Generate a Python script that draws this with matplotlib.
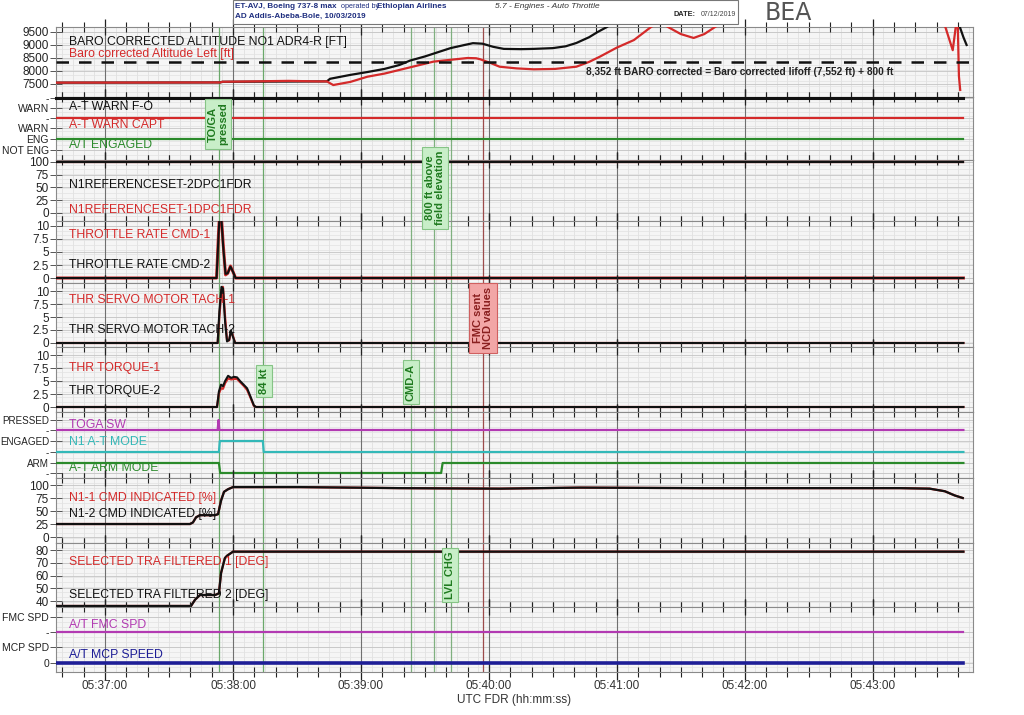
import numpy as np
import matplotlib
matplotlib.use('Agg')
import matplotlib.pyplot as plt
from matplotlib.ticker import MultipleLocator, FuncFormatter

plt.rcParams['font.family'] = ['Liberation Sans', 'DejaVu Sans']

# time axis: seconds after 05:37:00 UTC
T_START, T_END = -23, 407

# baro corrected altitude [ft]
t_alt_red = [-23, 54, 55, 86, 100, 104, 107, 115, 123, 131, 138, 146, 154, 162, 170, 174,
             176, 181, 185, 193, 201, 211, 221, 227, 232, 240, 248, 256, 260, 264, 270, 276,
             281, 286, 292, 390, 394, 397.5, 399, 399.8, 400.4, 401]
alt_red = [7552, 7560, 7585, 7620, 7600, 7600, 7460, 7580, 7780, 7900, 8040, 8200, 8360, 8430,
           8500, 8490, 8450, 8300, 8165, 8100, 8065, 8080, 8165, 8350, 8550, 8900, 9190, 9690,
           9900, 9690, 9420, 9270, 9420, 9690, 10000, 10000, 9700, 8800, 9750, 10000, 7800, 7270]
t_alt_blk = [-23, 54, 55, 104, 105.5, 115, 123, 131, 138, 143, 150, 156, 162, 168, 172.5, 177,
             182, 187, 195, 201, 210, 216, 221, 227, 231, 235.3, 240, 398, 400.8, 402.5, 404]
alt_blk = [7552, 7560, 7585, 7600, 7700, 7850, 7960, 8080, 8230, 8400, 8560, 8720, 8880, 8990,
           9070, 9050, 8930, 8850, 8840, 8850, 8880, 8950, 9077, 9300, 9500, 9690, 9950, 9950,
           9700, 9300, 9000]
alt_threshold = 8352

# discrete states (0/1) over the whole record
t_full = [-23, 402.5]
warn_fo = [0, 0]
warn_capt = [0, 0]
at_engaged = [1, 1]
fmc_spd = [0, 0]
mcp_spd = [0, 0]

t_toga = [-23, 52.8, 53.2, 53.6, 402.5]
toga_sw = [0, 0, 1, 0, 0]
t_n1_mode = [-23, 53.4, 53.8, 74.0, 74.4, 402.5]
n1_mode = [0, 0, 1, 1, 0, 0]
t_arm = [-23, 53.4, 54.0, 157.6, 158.3, 402.5]
arm_mode = [1, 1, 0, 0, 1, 1]

# N1 reference set
n1ref_1 = [100, 100]
n1ref_2 = [100, 100]

# throttle rate cmd
t_rate = [-23, 52.3, 53.2, 53.6, 54.6, 55.4, 56.5, 57.5, 58.8, 60.0, 61.2, 402.5]
rate_1 = [0, 0, 8.5, 11.5, 11.5, 6.5, 0.6, 0.9, 2.3, 1.2, 0, 0]
rate_2 = [0, 0, 8, 11.2, 11.2, 6, 0.8, 0.9, 2.2, 1.2, 0, 0]

# servo motor tach
t_servo = [-23, 52.8, 53.6, 54.6, 55.3, 56.3, 57.2, 58.2, 59.0, 59.8, 61.0, 402.5]
servo_1 = [0, 0, 5, 10.2, 10.8, 5, 0.5, 0.5, 2.1, 1.6, 0, 0]
servo_2 = [0, 0, 6, 10.8, 10.5, 4, 0.3, 0.6, 2.4, 1.4, 0, 0]

# thr torque
t_torque = [-23, 52.5, 53.4, 54.4, 55.3, 56.3, 57.7, 59.1, 60.5, 61.9, 63.3, 65.2, 66.6, 68.0,
            69.8, 70.8, 402.5]
torque_1 = [0, 0, 2.6, 3.6, 3.5, 4.6, 5.5, 5.3, 5.4, 5.4, 4.8, 4.0, 3.3, 2.0, 0.2, 0, 0]
torque_2 = [0, 0, 3.0, 4.3, 4.0, 5.0, 6.0, 5.6, 5.8, 5.7, 5.0, 4.2, 3.6, 2.2, 0.3, 0, 0]

# N1 cmd indicated [%]
t_n1 = [-23, 39.8, 41.2, 42.7, 44.5, 51.6, 53.0, 54.4, 55.8, 57.7, 60.0, 91.4, 138.3, 185.2,
        222.7, 278.9, 325.8, 372.7, 386.7, 393.8, 398.4, 402.2]
n1_1 = [25, 25, 28, 38, 42, 42, 44, 71, 87, 92, 96, 96, 94, 93, 95, 94, 94, 94, 93, 88, 80, 75]
n1_2 = [25, 25, 28, 38, 42, 42, 44, 70, 87, 92, 96, 96, 94, 93, 95, 94, 94, 94, 93, 88, 80, 75]

# selected TRA filtered [deg]
t_tra = [-23, 40.3, 42.2, 44.5, 51.6, 53.4, 54.4, 56.2, 57.2, 60.0, 402.5]
tra_1 = [36.1, 36.1, 41, 44.7, 44.7, 46, 62, 73.7, 75.5, 78.7, 78.7]
tra_2 = [36.1, 36.1, 41, 44.7, 44.7, 46, 62, 73.7, 75.5, 78.7, 78.7]

# events
ev_times = [53.4, 74.0, 143.4, 154.2, 162.2, 177.2]
ev_colors = ['#6aa86a', '#6aa86a', '#7fb07f', '#7fb07f', '#7fb07f', '#9c4b4b']

RED = '#d42a2a'
BLK = '#111111'
GRN = '#2b8a2b'
MAG = '#b23ab2'
CYN = '#33b8b8'
BLU = '#1d1d96'

W, H = 1024, 715
fig = plt.figure(figsize=(W / 100, H / 100), dpi=100)


def add_panel(top, bottom):
    return fig.add_axes([56 / W, 1 - bottom / H, (973 - 56) / W, (bottom - top) / H])


def ftext(x, y, s, **kw):
    kw.setdefault('va', 'center')
    kw.setdefault('ha', 'left')
    fig.text(x / W, 1 - y / H, s, **kw)


def hhmmss(t, pos):
    m = 37 + int(round(t / 60))
    return '05:%02d:00' % m


def style(ax, ylim, yticks, ylabels, bottom=False, ysize=8.5):
    ax.set_xlim(T_START, T_END)
    ax.set_ylim(*ylim)
    ax.set_facecolor('#f5f5f5')
    ax.vlines(np.arange(-20, T_END, 5), ylim[0], ylim[1], color='#dcdcdc', lw=0.5, zorder=0)
    ax.hlines(np.linspace(ylim[0], ylim[1], 14), T_START, T_END, color='#e2e2e2', lw=0.5, zorder=0)
    ax.hlines(yticks, T_START, T_END, color='#c4c4c4', lw=0.6, zorder=0)
    ax.vlines(np.arange(0, T_END, 60), ylim[0], ylim[1], color='#707070', lw=0.8, zorder=0.5)
    for t, c in zip(ev_times, ev_colors):
        ax.axvline(t, color=c, lw=0.9, zorder=0.6)
    ax.set_yticks(yticks)
    ax.set_yticklabels(ylabels)
    ax.xaxis.set_major_locator(MultipleLocator(60))
    ax.xaxis.set_minor_locator(MultipleLocator(10))
    ax.xaxis.set_major_formatter(FuncFormatter(hhmmss))
    ax.tick_params(axis='x', which='both', direction='inout', top=True, bottom=True,
                   labelbottom=bottom, color='#222222', labelsize=8.5, labelcolor='#333333')
    ax.tick_params(axis='x', which='major', length=12, width=0.9, pad=0)
    ax.tick_params(axis='x', which='minor', length=7, width=0.8)
    ax.tick_params(axis='y', direction='inout', length=8, width=0.7, color='#555555',
                   labelsize=ysize, labelcolor='#222222', pad=1)
    for s in ax.spines.values():
        s.set_color('#8a8a8a')
        s.set_linewidth(0.8)


def levels(states, lo, hi):
    return [lo + s * (hi - lo) for s in states]


# 1 altitude
ax = add_panel(27, 97)
style(ax, (7000, 9692), [7500, 8000, 8500, 9000, 9500],
      ['7500', '8000', '8500', '9000', '9500'])
ax.plot(t_alt_blk, alt_blk, color=BLK, lw=1.6, zorder=3)
ax.plot(t_alt_red, alt_red, color=RED, lw=1.6, zorder=4)
ax.axhline(alt_threshold, color=BLK, lw=1.8, ls=(0, (5, 4)), zorder=5)

# 2 A-T warn / engaged
ax = add_panel(97, 160)
style(ax, (0, 63), [62.3, 52.3, 41.7, 31.7, 21, 10],
      ['-', 'WARN', '-', 'WARN', 'ENG', 'NOT ENG'], ysize=7.5)
ax.plot(t_full, levels(warn_fo, 62.3, 52.3), color=BLK, lw=2.2, zorder=3, clip_on=False)
ax.plot(t_full, levels(warn_capt, 41.7, 31.7), color=RED, lw=1.6, zorder=3)
ax.plot(t_full, levels(at_engaged, 10, 21), color=GRN, lw=1.6, zorder=3)

# 3 N1 reference
ax = add_panel(160, 221)
style(ax, (-15.7, 103.9), [0, 25, 50, 75, 100], ['0', '25', '50', '75', '100'])
ax.plot(t_full, n1ref_1, color=RED, lw=1.6, zorder=3)
ax.plot(t_full, n1ref_2, color=BLK, lw=1.6, zorder=4)

# 4 throttle rate
ax = add_panel(221, 283)
style(ax, (-0.96, 10.96), [0, 2.5, 5, 7.5, 10], ['0', '2.5', '5', '7.5', '10'])
ax.plot(t_rate, rate_1, color=RED, lw=2.2, zorder=3)
ax.plot(t_rate, rate_2, color=BLK, lw=1.5, zorder=4)

# 5 servo motor tach
ax = add_panel(283, 347)
style(ax, (-0.77, 11.54), [0, 2.5, 5, 7.5, 10], ['0', '2.5', '5', '7.5', '10'])
ax.plot(t_servo, servo_1, color=RED, lw=1.6, zorder=3)
ax.plot(t_servo, servo_2, color=BLK, lw=1.5, zorder=4)

# 6 torque
ax = add_panel(347, 412)
style(ax, (-0.96, 11.54), [0, 2.5, 5, 7.5, 10], ['0', '2.5', '5', '7.5', '10'])
ax.plot(t_torque, torque_1, color=RED, lw=1.6, zorder=3)
ax.plot(t_torque, torque_2, color=BLK, lw=1.5, zorder=4)

# 7 TOGA / N1 mode / ARM
ax = add_panel(412, 478)
style(ax, (0, 66), [58, 48, 37, 26, 15, 5], ['PRESSED', '-', 'ENGAGED', '-', 'ARM', '-'],
      ysize=7.1)
ax.plot(t_toga, levels(toga_sw, 48, 58), color=MAG, lw=1.6, zorder=3)
ax.plot(t_n1_mode, levels(n1_mode, 26, 37), color=CYN, lw=1.6, zorder=3)
ax.plot(t_arm, levels(arm_mode, 5, 15), color=GRN, lw=1.6, zorder=3)

# 8 N1 cmd
ax = add_panel(478, 543)
style(ax, (-11.5, 113.5), [0, 25, 50, 75, 100], ['0', '25', '50', '75', '100'])
ax.plot(t_n1, n1_1, color=RED, lw=1.6, zorder=3)
ax.plot(t_n1, n1_2, color=BLK, lw=1.6, zorder=4)

# 9 TRA
ax = add_panel(543, 607)
style(ax, (35.3, 85.5), [40, 50, 60, 70, 80], ['40', '50', '60', '70', '80'])
ax.plot(t_tra, tra_1, color=RED, lw=1.6, zorder=3)
ax.plot(t_tra, tra_2, color=BLK, lw=1.6, zorder=4)

# 10 FMC / MCP speed
ax = add_panel(607, 672)
style(ax, (0, 65), [55, 40, 25, 9], ['FMC SPD', '-', 'MCP SPD', '0'], bottom=True, ysize=7.5)
ax.plot(t_full, levels(fmc_spd, 40, 55), color=MAG, lw=1.6, zorder=3)
ax.plot(t_full, levels(mcp_spd, 9, 25), color=BLU, lw=2.6, zorder=3)
ax.set_xlabel('UTC FDR (hh:mm:ss)', fontsize=8.5, color='#333333', labelpad=1)

# trace names
names = [
    (41.5, 'BARO CORRECTED ALTITUDE NO1 ADR4-R [FT]', BLK),
    (53.5, 'Baro corrected Altitude Left [ft]', RED),
    (106.5, 'A-T WARN F-O', BLK),
    (125, 'A-T WARN CAPT', RED),
    (145.5, 'A/T ENGAGED', GRN),
    (185.5, 'N1REFERENCESET-2DPC1FDR', BLK),
    (210, 'N1REFERENCESET-1DPC1FDR', RED),
    (235, 'THROTTLE RATE CMD-1', RED),
    (265, 'THROTTLE RATE CMD-2', BLK),
    (300, 'THR SERVO MOTOR TACH-1', RED),
    (330, 'THR SERVO MOTOR TACH-2', BLK),
    (368, 'THR TORQUE-1', RED),
    (391, 'THR TORQUE-2', BLK),
    (425, 'TOGA SW', MAG),
    (442, 'N1 A-T MODE', CYN),
    (468, 'A-T ARM MODE', GRN),
    (498, 'N1-1 CMD INDICATED [%]', RED),
    (513.5, 'N1-2 CMD INDICATED [%]', BLK),
    (561.5, 'SELECTED TRA FILTERED 1 [DEG]', RED),
    (595, 'SELECTED TRA FILTERED 2 [DEG]', BLK),
    (625, 'A/T FMC SPD', MAG),
    (655, 'A/T MCP SPEED', BLU),
]
for y, s, c in names:
    ftext(69, y, s, fontsize=8.8, color=c, zorder=10)

ftext(586, 72, '8,352 ft BARO corrected = Baro corrected lifoff (7,552 ft) + 800 ft',
      fontsize=7.3, fontweight='bold', color='#222222')

# event boxes
gbox = dict(boxstyle='square,pad=0.3', fc='#c8eec8', ec='#86c486', lw=0.8)
rbox = dict(boxstyle='square,pad=0.35', fc='#f2a6a6', ec='#d06060', lw=0.8)
ftext(218, 124, 'TO/GA\npressed', fontsize=8, fontweight='bold', color='#1f7a1f',
      rotation=90, ha='center', bbox=gbox, linespacing=1.0)
ftext(435, 188, '800 ft above\nfield elevation', fontsize=8, fontweight='bold',
      color='#1f7a1f', rotation=90, ha='center', bbox=gbox, linespacing=1.0)
ftext(411, 382, 'CMD-A', fontsize=8, fontweight='bold', color='#1f7a1f',
      rotation=90, ha='center', bbox=gbox)
ftext(264, 381, '84 kt', fontsize=8, fontweight='bold', color='#1f7a1f',
      rotation=90, ha='center', bbox=gbox)
ftext(450, 575, 'LVL CHG', fontsize=8, fontweight='bold', color='#1f7a1f',
      rotation=90, ha='center', bbox=gbox)
ftext(483, 318, 'FMC sent\nNCD values', fontsize=8, fontweight='bold', color='#8a1f1f',
      rotation=90, ha='center', bbox=rbox, linespacing=1.0)

# header
hdr = plt.Rectangle((233 / W, 1 - 24 / H), (738 - 233) / W, 24 / H, transform=fig.transFigure,
                    fc='white', ec='#777777', lw=0.8)
fig.patches.append(hdr)
NAVY = '#1f2f80'
ftext(235, 6, 'ET-AVJ, Boeing 737-8 max', fontsize=5.9, fontweight='bold', color=NAVY)
ftext(341, 6, 'operated by', fontsize=5.2, color=NAVY)
ftext(377, 6, 'Ethiopian Airlines', fontsize=5.9, fontweight='bold', color=NAVY)
ftext(235, 16, 'AD Addis-Abeba-Bole, 10/03/2019', fontsize=5.9, fontweight='bold', color=NAVY)
ftext(495, 7, '5.7 - Engines - Auto Throttle', fontsize=6, style='italic', color='#333333')
ftext(674, 15, 'DATE:', fontsize=5.3, fontweight='bold', color='#222222')
ftext(701, 15, '07/12/2019', fontsize=5, color='#444444')
ftext(765, 13, 'BEA', fontsize=17, color='#555555', family=['DejaVu Sans'])

fig.savefig('out.png', dpi=100, facecolor='white')
